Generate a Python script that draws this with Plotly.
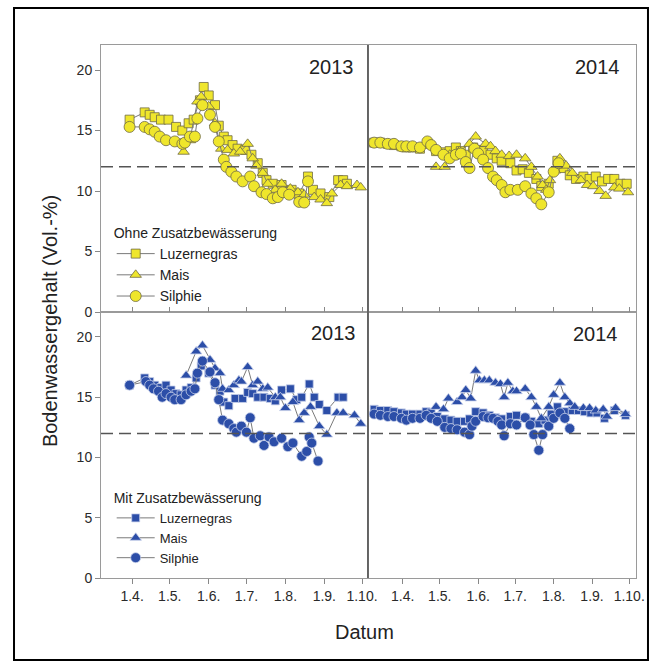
import plotly.graph_objects as go

# ---------------- data ----------------
tick_dates = ["04-01", "05-01", "06-01", "07-01", "08-01", "09-01", "10-01"]
tick_labels = ["1.4.", "1.5.", "1.6.", "1.7.", "1.8.", "1.9.", "1.10."]
y_ticks = [0, 5, 10, 15, 20]
series_names = ["Luzernegras", "Mais", "Silphie"]

# 2013, ohne Zusatzbewässerung
luz13o_d = ["03-30","04-11","04-15","04-19","04-24","04-30","05-06","05-11","05-16","05-20","05-25","05-28","06-01","06-06","06-09","06-13","06-16","06-20","06-24","06-30","07-05","07-10","07-14","07-17","07-22","07-29","08-06","08-12","08-19","08-23","08-29","09-05","09-12","09-16","09-19"]
luz13o_v = [15.9,16.5,16.3,16.1,15.9,15.9,15.3,15.0,15.6,15.9,17.5,18.6,17.9,17.1,15.4,14.5,14.2,13.8,13.5,13.4,13.0,12.3,11.5,10.9,10.6,10.5,10.1,9.8,11.2,10.1,9.8,9.5,10.9,10.9,10.6]
mai13o_d = ["05-12","05-17","05-23","05-26","06-01","06-06","06-11","06-16","06-21","06-26","07-02","07-06","07-09","07-14","07-18","07-24","07-29","08-05","08-11","08-16","08-24","08-29","09-03","09-07","09-14","09-19","09-27","09-30"]
mai13o_v = [13.25,14.2,17.4,17.8,17.0,15.6,13.5,13.4,13.1,13.25,13.9,12.7,12.1,11.5,10.6,10.1,10.6,10.2,9.9,9.7,9.5,9.3,9.0,9.8,10.5,10.4,10.5,10.3]
sil13o_d = ["03-30","04-11","04-15","04-19","04-23","04-28","05-05","05-11","05-13","05-17","05-21","05-23","05-27","06-02","06-06","06-09","06-13","06-15","06-19","06-23","06-28","07-04","07-07","07-13","07-17","07-22","07-26","07-30","08-04","08-12","08-16","08-19"]
sil13o_v = [15.3,15.3,15.1,14.9,14.5,14.2,14.1,13.9,14.0,14.5,14.5,16.0,17.1,16.3,15.3,14.1,12.6,12.0,11.6,11.2,10.8,11.2,10.4,9.9,9.75,9.4,9.5,9.9,9.7,9.1,9.05,10.8]

# 2014, ohne Zusatzbewässerung
luz14o_d = ["03-09","03-14","03-20","03-25","03-31","04-04","04-09","04-15","04-21","04-28","05-04","05-09","05-14","05-18","05-22","05-28","06-01","06-05","06-11","06-16","06-20","06-27","07-02","07-07","07-12","07-18","07-22","07-28","08-04","08-09","08-14","08-19","08-25","08-30","09-04","09-09","09-14","09-19","09-24","09-29"]
luz14o_v = [14.0,14.0,13.9,13.8,13.7,13.6,13.6,13.5,13.9,13.3,13.2,13.3,13.6,13.3,13.0,13.6,13.4,13.3,13.0,12.7,12.5,12.3,11.7,11.8,11.5,11.0,10.4,10.6,12.5,11.9,11.3,11.0,11.2,11.0,11.2,10.8,11.0,11.0,10.6,10.6]
mai14o_d = ["04-28","05-05","05-09","05-17","05-25","05-30","06-07","06-11","06-15","06-20","06-26","07-02","07-09","07-14","07-19","07-23","07-26","07-29","08-02","08-06","08-11","08-16","08-23","08-28","09-02","09-07","09-12","09-19","09-23","09-30"]
mai14o_v = [12.0,12.0,13.0,13.3,13.9,14.5,13.9,13.7,13.3,13.0,12.9,13.0,12.7,12.0,11.2,10.5,10.1,10.9,11.7,12.7,12.1,11.5,10.9,10.5,10.4,10.0,9.6,10.3,10.2,9.9]
sil14o_d = ["03-09","03-14","03-20","03-25","03-31","04-04","04-09","04-15","04-21","04-24","04-28","05-04","05-09","05-14","05-18","05-22","05-25","05-29","06-01","06-05","06-09","06-13","06-16","06-20","06-23","06-27","07-03","07-09","07-14","07-18","07-22","07-28","08-01","08-05"]
sil14o_v = [14.0,14.0,13.9,13.9,13.7,13.7,13.7,13.6,14.1,13.8,13.4,13.0,12.7,13.0,13.1,12.4,11.9,13.5,13.1,12.6,11.9,11.2,10.9,10.5,9.9,10.1,10.1,10.4,9.8,9.4,8.9,9.9,11.6,12.3]

# 2013, mit Zusatzbewässerung
luz13m_d = ["03-30","04-11","04-15","04-19","04-24","04-28","05-02","05-06","05-10","05-14","05-18","05-22","05-26","06-01","06-06","06-10","06-13","06-17","06-22","06-28","07-02","07-06","07-10","07-15","07-20","07-24","07-29","08-05","08-10","08-14","08-20","08-24","08-28","09-03","09-12","09-16"]
luz13m_v = [16.0,16.6,16.3,16.0,15.8,16.0,15.6,15.3,15.2,15.6,15.8,16.6,17.6,17.0,16.0,15.5,14.6,14.3,14.9,14.9,15.4,15.3,15.0,15.0,14.9,14.7,15.6,15.7,14.8,15.0,16.1,15.0,14.4,13.9,15.0,15.0]
mai13m_d = ["05-14","05-22","05-27","06-02","06-06","06-10","06-12","06-17","06-21","06-25","06-27","07-02","07-06","07-10","07-14","07-18","07-24","07-28","08-01","08-07","08-12","08-16","08-21","08-28","09-03","09-11","09-16","09-25","09-30"]
mai13m_v = [16.8,18.8,19.3,18.1,17.4,17.0,15.7,15.6,16.0,16.4,16.3,17.5,16.0,16.3,15.7,15.8,15.0,15.0,14.1,14.6,13.1,13.7,14.2,12.6,11.9,13.7,13.7,13.5,12.8]
sil13m_d = ["03-30","04-12","04-15","04-18","04-22","04-25","04-28","05-02","05-05","05-10","05-14","05-18","05-21","05-23","05-27","06-02","06-06","06-09","06-12","06-17","06-21","06-23","06-27","07-01","07-04","07-07","07-12","07-15","07-19","07-23","07-29","08-03","08-07","08-14","08-18","08-20","08-22","08-27"]
sil13m_v = [16.0,16.3,16.0,15.7,15.5,15.0,15.3,15.0,14.8,14.8,15.2,15.5,15.7,17.0,18.0,17.1,16.2,14.8,13.1,12.8,12.4,12.1,12.6,12.1,13.3,11.6,11.8,11.0,11.7,11.3,11.6,10.9,11.2,10.1,10.5,11.7,11.2,9.7]

# 2014, mit Zusatzbewässerung
luz14m_d = ["03-09","03-14","03-20","03-25","03-31","04-04","04-09","04-15","04-20","04-24","04-29","05-05","05-10","05-15","05-21","05-25","05-30","06-05","06-10","06-15","06-20","06-27","07-02","07-09","07-14","07-20","07-25","07-30","08-04","08-10","08-16","08-21","08-26","08-31","09-05","09-11","09-19","09-28"]
luz14m_v = [14.0,13.9,13.9,13.8,13.7,13.6,13.6,13.6,13.8,13.7,13.4,13.2,13.1,13.0,13.0,13.2,13.8,13.7,13.5,13.3,13.2,13.4,13.5,13.3,13.0,12.8,13.1,13.6,14.2,13.8,13.9,13.9,13.8,13.7,13.7,13.25,13.9,13.5]
mai14m_d = ["04-28","05-04","05-08","05-15","05-19","05-22","05-26","05-30","06-02","06-06","06-10","06-15","06-19","06-22","06-25","06-29","07-02","07-09","07-14","07-18","07-22","07-28","08-01","08-06","08-10","08-14","08-18","08-25","08-30","09-04","09-10","09-13","09-20","09-28"]
mai14m_v = [14.2,14.0,14.9,14.6,15.0,15.6,14.9,17.2,16.4,16.4,16.4,16.2,16.1,15.0,16.2,15.5,15.5,15.7,15.0,14.2,13.25,14.2,15.2,16.2,15.0,14.5,14.2,14.1,14.1,13.9,14.0,13.4,14.1,13.6]
sil14m_d = ["03-09","03-14","03-20","03-25","03-31","04-04","04-09","04-15","04-20","04-24","04-29","05-05","05-10","05-15","05-21","05-25","05-27","05-30","06-05","06-09","06-13","06-17","06-20","06-22","06-27","07-02","07-09","07-13","07-16","07-20","07-23","07-28","08-01","08-06","08-10","08-14"]
sil14m_v = [13.6,13.5,13.4,13.4,13.25,13.1,13.25,13.25,13.5,13.25,13.0,12.5,12.4,12.3,12.1,11.9,12.6,13.0,13.4,13.3,13.25,13.0,12.7,11.8,12.8,12.7,13.3,12.7,11.9,10.6,11.9,12.6,13.25,13.7,13.25,12.4]

threshold = 12

# ---------------- styling ----------------
FONT = "Liberation Sans, Arial, sans-serif"
YEL, YEL_EDGE = "#EFE62C", "#6e6a45"
BLU, BLU_EDGE = "#2C4EA8", "#c8d0ea"
LINE_C = "#7a7a7a"
symbols = {"Luzernegras": "square", "Mais": "triangle-up", "Silphie": "circle"}
sizes_y = {"Luzernegras": 9, "Mais": 10, "Silphie": 11}
sizes_b = {"Luzernegras": 8, "Mais": 10, "Silphie": 10}

fig = go.Figure()

def add(dates, vals, year, name, xa, ya, fill, edge, sizes, legend, show):
    fig.add_trace(go.Scatter(
        x=[f"{year}-{d}" for d in dates], y=vals, name=name,
        mode="lines+markers", xaxis=xa, yaxis=ya,
        line=dict(color=LINE_C, width=1),
        marker=dict(symbol=symbols[name], size=sizes[name], color=fill,
                    line=dict(color=edge, width=0.8)),
        legend=legend, showlegend=show))

panels = [
    (2013, "x3", "y3", [(luz13o_d, luz13o_v), (mai13o_d, mai13o_v), (sil13o_d, sil13o_v)], YEL, YEL_EDGE, sizes_y, "legend", True),
    (2014, "x4", "y4", [(luz14o_d, luz14o_v), (mai14o_d, mai14o_v), (sil14o_d, sil14o_v)], YEL, YEL_EDGE, sizes_y, "legend", False),
    (2013, "x", "y", [(luz13m_d, luz13m_v), (mai13m_d, mai13m_v), (sil13m_d, sil13m_v)], BLU, BLU_EDGE, sizes_b, "legend2", True),
    (2014, "x2", "y2", [(luz14m_d, luz14m_v), (mai14m_d, mai14m_v), (sil14m_d, sil14m_v)], BLU, BLU_EDGE, sizes_b, "legend2", False),
]
for year, xa, ya, data, fill, edge, sizes, leg, show in panels:
    for name, (d, v) in zip(series_names, data):
        add(d, v, year, name, xa, ya, fill, edge, sizes, leg, show)

SPLIT_X = 0.499
SPLIT_Y = 0.499
ax_line = "#9a9a9a"
tickfont = dict(family=FONT, size=14, color="#2a2a2a")

def xax(year, domain, anchor, labels, rng):
    return dict(domain=domain, anchor=anchor, type="date", range=rng,
                tickvals=[f"{year}-{d}" for d in tick_dates], ticktext=tick_labels,
                showticklabels=labels, ticks="outside" if labels else "inside",
                ticklen=5, tickcolor="#888", showline=True, linecolor=ax_line,
                mirror=True, showgrid=False, zeroline=False, tickfont=tickfont)

def yax(domain, anchor, labels):
    return dict(domain=domain, anchor=anchor, range=[0, 22.07], tickvals=y_ticks,
                showticklabels=labels, ticks="outside" if labels else "",
                ticklen=5, tickcolor="#888", showline=True, linecolor=ax_line,
                mirror=True, showgrid=False, zeroline=False, tickfont=tickfont)

r13 = ["2013-03-07 06:00", "2013-10-05 18:00"]
r14 = ["2014-03-04 00:00", "2014-10-06 12:00"]

leg_font = dict(family=FONT, size=14, color="#222")
fig.update_layout(
    width=661, height=669,
    margin=dict(l=101, r=25, t=45, b=91),
    paper_bgcolor="white", plot_bgcolor="white",
    font=dict(family=FONT, color="#222"),
    xaxis=xax(2013, [0, SPLIT_X], "y", True, r13),
    xaxis2=xax(2014, [SPLIT_X, 1], "y2", True, r14),
    xaxis3=xax(2013, [0, SPLIT_X], "y3", False, r13),
    xaxis4=xax(2014, [SPLIT_X, 1], "y4", False, r14),
    yaxis=yax([0, SPLIT_Y], "x", True),
    yaxis2=yax([0, SPLIT_Y], "x2", False),
    yaxis3=yax([SPLIT_Y, 1], "x3", True),
    yaxis4=yax([SPLIT_Y, 1], "x4", False),
    legend=dict(x=0.02, y=0.672, xanchor="left", yanchor="top",
                bgcolor="rgba(0,0,0,0)", font=leg_font,
                title=dict(text="Ohne Zusatzbewässerung", font=leg_font),
                itemwidth=38, tracegroupgap=0),
    legend2=dict(x=0.02, y=0.175, xanchor="left", yanchor="top",
                 bgcolor="rgba(0,0,0,0)", font=dict(family=FONT, size=13, color="#222"),
                 title=dict(text="Mit Zusatzbewässerung", font=leg_font),
                 itemwidth=38, tracegroupgap=0),
    showlegend=True,
)

shapes = []
for yref in ["y", "y3"]:
    shapes.append(dict(type="line", xref="paper", yref=yref, x0=0, x1=1,
                       y0=threshold, y1=threshold,
                       line=dict(color="#555", width=1.5, dash="12px,6px")))
shapes.append(dict(type="line", xref="paper", yref="paper", x0=SPLIT_X, x1=SPLIT_X,
                   y0=0, y1=1, line=dict(color="#555", width=1.5)))
shapes.append(dict(type="rect", xref="paper", yref="paper",
                   x0=-0.1626, x1=1.0224, y0=-0.1538, y1=1.0694,
                   line=dict(color="black", width=2), fillcolor="rgba(0,0,0,0)"))
fig.update_layout(shapes=shapes)

ann = []
for txt, x, y in [("2013", 0.431, 0.9587), ("2014", 0.928, 0.9587),
                  ("2013", 0.4355, 0.4606), ("2014", 0.924, 0.4578)]:
    ann.append(dict(text=txt, x=x, y=y, xref="paper", yref="paper", showarrow=False,
                    xanchor="center", yanchor="middle", font=dict(family=FONT, size=20, color="#222")))
ann.append(dict(text="Bodenwassergehalt (Vol.-%)", x=-0.0953, y=0.482, xref="paper", yref="paper",
                showarrow=False, textangle=-90, xanchor="center", yanchor="middle",
                font=dict(family=FONT, size=20, color="#222")))
ann.append(dict(text="Datum", x=0.493, y=-0.1013, xref="paper", yref="paper",
                showarrow=False, xanchor="center", yanchor="middle",
                font=dict(family=FONT, size=20, color="#222")))
fig.update_layout(annotations=ann)

fig.write_html("out.html", config={"displayModeBar": False},
               post_script="document.body.style.margin='0';document.body.style.overflow='hidden';")
